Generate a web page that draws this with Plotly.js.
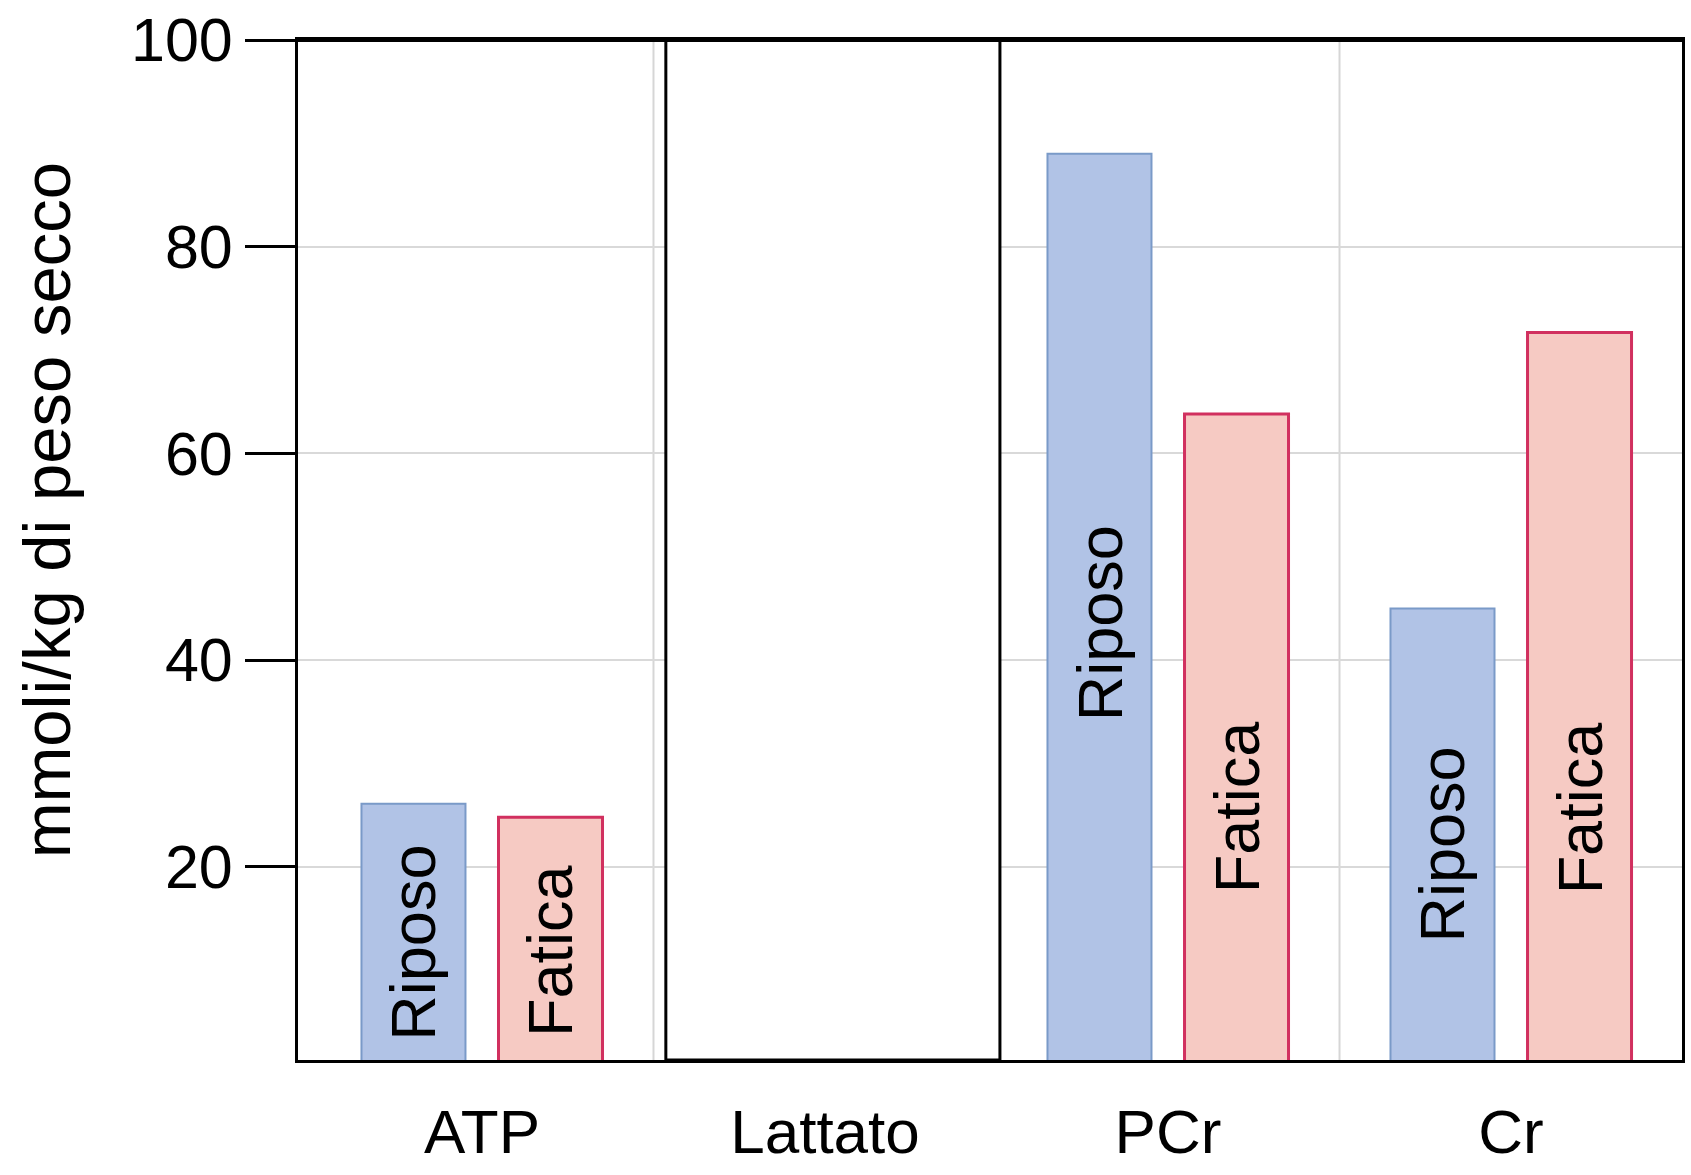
<!DOCTYPE html>
<html>
<head>
<meta charset="utf-8">
<script src="https://cdn.plot.ly/plotly-3.0.1.min.js"></script>
<style>
  html, body { margin: 0; padding: 0; background: #ffffff; }
  #chart { width: 1691px; height: 1175px; }
</style>
</head>
<body>
<div id="chart"></div>
<script>
// Muscle metabolite content at rest and at fatigue (mmol/kg dry weight)
const categories = ['ATP', 'Lattato', 'PCr', 'Cr'];
const seriesNames = ['Riposo', 'Fatica'];
const riposo = [26.1, null, 89.0, 45.0];
const fatica = [24.8, null, 63.8, 71.7];
const yTicks = [20, 40, 60, 80, 100];

// Where each in-bar label sits along the bar (data units)
const labelPosRiposo = [12.7, null, 43.6, 22.1];
const labelPosFatica = [11.9, null, 25.8, 25.7];

const FONT = '"Liberation Sans", Arial, Helvetica, sans-serif';
const BARGAP = 0.201;
const BARGROUPGAP = 0.241;

const traces = [
  {
    type: 'bar', name: seriesNames[0], x: categories, y: riposo,
    marker: { color: '#b1c3e6', line: { color: '#7a9ac8', width: 2 } },
    hoverinfo: 'x+y'
  },
  {
    type: 'bar', name: seriesNames[1], x: categories, y: fatica,
    marker: { color: '#f6cac3', line: { color: '#d1305f', width: 3 } },
    hoverinfo: 'x+y'
  }
];

// Offset of each bar from its category centre, from the group layout
const slot = (1 - BARGAP) / 2;
const offsets = [-slot / 2, slot / 2];

const annotations = [];
[labelPosRiposo, labelPosFatica].forEach((pos, s) => {
  pos.forEach((yv, i) => {
    if (yv === null) return;
    annotations.push({
      xref: 'x', yref: 'y', x: i + offsets[s], y: yv,
      text: seriesNames[s], showarrow: false, textangle: -90,
      xanchor: 'center', yanchor: 'middle',
      font: { family: FONT, size: 63, color: '#000000' }
    });
  });
});

// y-axis title
annotations.push({
  xref: 'paper', yref: 'paper', x: -0.182, y: 0.539,
  text: 'mmoli/kg di peso secco', showarrow: false, textangle: -90,
  xanchor: 'center', yanchor: 'middle',
  font: { family: FONT, size: 67, color: '#000000' }
});

// Vertical separators between categories
const shapes = [];
for (let i = 1; i < categories.length; i++) {
  shapes.push({
    type: 'line', xref: 'x', yref: 'paper', x0: i - 0.5, x1: i - 0.5, y0: 0, y1: 1,
    line: { color: '#d6d6d6', width: 2 }, layer: 'below'
  });
}
// Framed panel for the lactate column
const li = categories.indexOf('Lattato');
shapes.push({
  type: 'rect', xref: 'x', yref: 'paper', x0: li - 0.464, x1: li + 0.51, y0: 0, y1: 1,
  fillcolor: '#ffffff', line: { color: '#000000', width: 3 }, layer: 'above'
});
// Heavier top border
shapes.push({
  type: 'line', xref: 'paper', yref: 'paper', x0: 0, x1: 1, y0: 1, y1: 1,
  line: { color: '#000000', width: 4 }, layer: 'above'
});

const layout = {
  width: 1691, height: 1175,
  margin: { l: 298, r: 9, t: 40, b: 115, pad: 0 },
  paper_bgcolor: '#ffffff', plot_bgcolor: '#ffffff',
  showlegend: false,
  barmode: 'group', bargap: BARGAP, bargroupgap: BARGROUPGAP,
  font: { family: FONT, color: '#000000' },
  xaxis: {
    type: 'category', range: [-0.5364, 3.4985],
    showgrid: false, zeroline: false,
    showline: true, linecolor: '#000000', linewidth: 3, mirror: true,
    ticks: '', ticklabelstandoff: 16,
    tickfont: { family: FONT, size: 62, color: '#000000' }
  },
  yaxis: {
    range: [1.3, 100], tickvals: yTicks, ticktext: yTicks.map(String),
    showgrid: true, gridcolor: '#d9d9d9', gridwidth: 2, zeroline: false,
    showline: true, linecolor: '#000000', linewidth: 3, mirror: true,
    ticks: 'outside', ticklen: 50, tickwidth: 3, tickcolor: '#000000',
    tickfont: { family: FONT, size: 61, color: '#000000' }
  },
  annotations: annotations,
  shapes: shapes
};

Plotly.newPlot('chart', traces, layout, { displayModeBar: false, staticPlot: true });
</script>
</body>
</html>
